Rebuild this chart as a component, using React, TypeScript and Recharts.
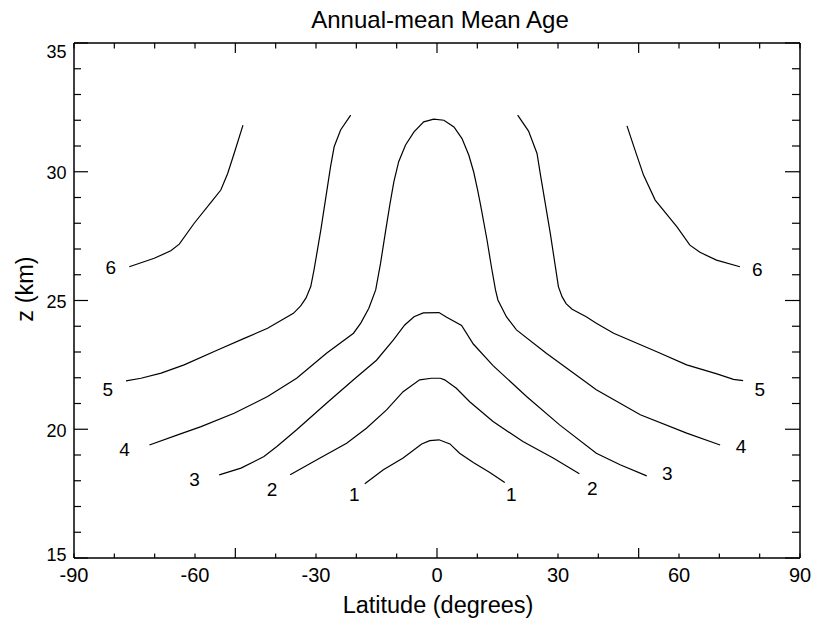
import React from 'react';
import { ComposedChart, Line, XAxis, YAxis, Scatter } from 'recharts';

const chartTitle = 'Annual-mean Mean Age';
const xTitle = 'Latitude (degrees)';
const yTitle = 'z (km)';

const latTicks = [-90, -80, -70, -60, -50, -40, -30, -20, -10, 0, 10, 20, 30, 40, 50, 60, 70, 80, 90];
const zTicks = [15, 16, 17, 18, 19, 20, 21, 22, 23, 24, 25, 26, 27, 28, 29, 30, 31, 32, 33, 34, 35];

type P = { lat: number; z: number };
const pts = (a: number[][]): P[] => a.map(([lat, z]) => ({ lat, z }));

const contour1 = pts([
  [-17.9, 17.88], [-13.3, 18.43], [-8.4, 18.88], [-3.8, 19.43], [-1.8, 19.56], [0.5, 19.59],
  [3.2, 19.43], [5.6, 19.07], [9.0, 18.71], [13.1, 18.32], [16.8, 17.93],
]);
const contour2 = pts([
  [-36.4, 18.23], [-29.0, 18.88], [-22.4, 19.46], [-17.5, 20.04], [-12.5, 20.75], [-8.4, 21.46],
  [-4.3, 21.92], [-1.4, 21.98], [0.8, 21.98], [1.9, 21.92], [4.8, 21.59], [8.1, 21.07],
  [13.9, 20.3], [21.3, 19.52], [28.8, 18.88], [35.3, 18.27],
]);
const contour3 = pts([
  [-54.0, 18.23], [-48.6, 18.49], [-42.9, 18.94], [-39.7, 19.33], [-34.8, 19.98], [-27.4, 21.01],
  [-20.7, 21.92], [-15.0, 22.68], [-10.8, 23.47], [-8.0, 24.05], [-5.7, 24.37], [-3.4, 24.52],
  [0.5, 24.53], [2.4, 24.35], [6.1, 24.03], [9.0, 23.31], [13.9, 22.47], [22.2, 21.27],
  [30.4, 20.17], [39.5, 19.07], [45.4, 18.62], [52.0, 18.19],
]);
const contour4 = pts([
  [-71.3, 19.39], [-64.3, 19.78], [-58.5, 20.1], [-50.3, 20.62], [-42.0, 21.27], [-34.8, 21.98],
  [-27.4, 22.95], [-20.7, 23.73], [-18.9, 24.12], [-16.9, 24.7], [-15.2, 25.41], [-14.0, 26.44],
  [-12.7, 27.74], [-11.7, 28.71], [-10.7, 29.61], [-9.5, 30.39], [-7.8, 31.04], [-5.7, 31.55],
  [-3.3, 31.94], [-0.8, 32.04], [1.7, 32.0], [4.2, 31.74], [6.2, 31.29], [7.9, 30.64],
  [9.1, 29.99], [10.0, 29.34], [10.8, 28.71], [12.4, 27.35], [13.5, 26.3], [14.5, 25.41],
  [15.1, 25.02], [17.2, 24.37], [19.7, 23.86], [27.1, 22.95], [34.5, 22.11], [39.5, 21.53],
  [50.4, 20.56], [61.9, 19.85], [70.2, 19.39],
]);
const contour5South = pts([
  [-77.1, 21.88], [-73.4, 21.98], [-68.4, 22.18], [-62.7, 22.5], [-54.4, 23.08], [-47.8, 23.53],
  [-42.0, 23.92], [-38.7, 24.22], [-35.6, 24.5], [-33.8, 24.79], [-32.5, 25.09], [-31.3, 25.54],
  [-30.5, 26.18], [-28.8, 27.74], [-26.4, 30.19], [-25.5, 30.97], [-23.9, 31.62], [-21.4, 32.2],
]);
const contour5North = pts([
  [20.0, 32.2], [22.7, 31.58], [24.8, 30.71], [25.6, 29.93], [28.1, 27.6], [30.1, 25.54],
  [31.0, 25.15], [32.0, 24.88], [33.5, 24.66], [37.0, 24.37], [39.5, 24.12], [43.8, 23.73],
  [54.5, 23.01], [61.9, 22.5], [69.4, 22.15], [73.5, 21.94], [75.9, 21.89],
]);
const contour6South = pts([
  [-76.3, 26.31], [-70.1, 26.64], [-66.0, 26.93], [-63.9, 27.19], [-60.2, 28.0], [-55.6, 28.9],
  [-53.6, 29.29], [-51.9, 29.93], [-50.3, 30.71], [-48.1, 31.81],
]);
const contour6North = pts([
  [47.1, 31.78], [49.1, 30.84], [51.2, 29.87], [54.1, 28.9], [59.5, 27.86], [62.7, 27.15],
  [65.2, 26.87], [69.3, 26.57], [75.1, 26.31],
]);

const contourLabels = [
  { lat: -80.9, z: 26.29, text: '6' }, { lat: 79.4, z: 26.19, text: '6' },
  { lat: -81.6, z: 21.56, text: '5' }, { lat: 80.0, z: 21.53, text: '5' },
  { lat: -77.5, z: 19.2, text: '4' }, { lat: 75.4, z: 19.33, text: '4' },
  { lat: -60.1, z: 18.05, text: '3' }, { lat: 57.1, z: 18.28, text: '3' },
  { lat: -40.9, z: 17.66, text: '2' }, { lat: 38.5, z: 17.71, text: '2' },
  { lat: -20.5, z: 17.47, text: '1' }, { lat: 18.4, z: 17.46, text: '1' },
];

const contours = [contour1, contour2, contour3, contour4, contour5South, contour5North, contour6South, contour6North];

const FONT = '"Liberation Sans", Arial, Helvetica, sans-serif';

const BottomTick = (props: any) => {
  const { x, y, payload } = props;
  const v = payload.value;
  const major = v % 50 === 0;
  return (
    <g>
      <line x1={x} x2={x} y1={y} y2={y - (major ? 10 : 4.5)} stroke="#000" strokeWidth={1.2} />
      {v % 30 === 0 && (
        <text x={x} y={y + 24} textAnchor="middle" fontSize={20} fontFamily={FONT} fill="#000">{v}</text>
      )}
    </g>
  );
};
const TopTick = (props: any) => {
  const { x, y, payload } = props;
  const major = payload.value % 50 === 0;
  return <line x1={x} x2={x} y1={y} y2={y + (major ? 10 : 5.5)} stroke="#000" strokeWidth={1.2} />;
};
const LeftTick = (props: any) => {
  const { x, y, payload } = props;
  const v = payload.value;
  const major = v % 5 === 0;
  const dy = v === 35 ? 14.5 : v === 15 ? 3 : 7.5;
  return (
    <g>
      <line x1={x} x2={x + (major ? 14 : 7)} y1={y} y2={y} stroke="#000" strokeWidth={1.2} />
      {major && (
        <text x={x - 7.5} y={y + dy} textAnchor="end" fontSize={18} fontFamily={FONT} fill="#000">{v}</text>
      )}
    </g>
  );
};
const RightTick = (props: any) => {
  const { x, y, payload } = props;
  const major = payload.value % 5 === 0;
  return <line x1={x} x2={x - (major ? 15 : 8)} y1={y} y2={y} stroke="#000" strokeWidth={1.2} />;
};

const LabelShape = (props: any) => {
  const { cx, cy, payload } = props;
  return (
    <text x={cx} y={cy} dy={6.5} textAnchor="middle" fontSize={19} fontFamily={FONT} fill="#000">
      {payload.text}
    </text>
  );
};

export default function App() {
  return (
    <div style={{ position: 'absolute', left: 0, top: 0, width: 813, height: 621, background: '#fff' }}>
      <ComposedChart width={813} height={621} margin={{ top: 42, right: 12, bottom: 33, left: 14 }}>
        <XAxis
          xAxisId="bottom"
          dataKey="lat"
          type="number"
          domain={[-90, 90]}
          ticks={latTicks}
          interval={0}
          allowDataOverflow
          height={30}
          tickSize={0}
          tickMargin={0}
          tickLine={false}
          axisLine={{ stroke: '#000', strokeWidth: 1.5 }}
          tick={<BottomTick />}
        />
        <XAxis
          xAxisId="top"
          orientation="top"
          dataKey="lat"
          type="number"
          domain={[-90, 90]}
          ticks={latTicks}
          interval={0}
          allowDataOverflow
          height={1}
          tickSize={0}
          tickMargin={0}
          tickLine={false}
          axisLine={{ stroke: '#000', strokeWidth: 1.5 }}
          tick={<TopTick />}
        />
        <YAxis
          yAxisId="left"
          dataKey="z"
          type="number"
          domain={[15, 35]}
          ticks={zTicks}
          interval={0}
          allowDataOverflow
          width={60}
          tickSize={0}
          tickMargin={0}
          tickLine={false}
          axisLine={{ stroke: '#000', strokeWidth: 1.5 }}
          tick={<LeftTick />}
        />
        <YAxis
          yAxisId="right"
          orientation="right"
          dataKey="z"
          type="number"
          domain={[15, 35]}
          ticks={zTicks}
          interval={0}
          allowDataOverflow
          width={1}
          tickSize={0}
          tickMargin={0}
          tickLine={false}
          axisLine={{ stroke: '#000', strokeWidth: 1.5 }}
          tick={<RightTick />}
        />
        {contours.map((c, i) => (
          <Line
            key={i}
            data={c}
            dataKey="z"
            xAxisId="bottom"
            yAxisId="left"
            type="linear"
            stroke="#000"
            strokeWidth={1.2}
            dot={false}
            activeDot={false}
            isAnimationActive={false}
          />
        ))}
        <Scatter
          data={contourLabels}
          dataKey="z"
          xAxisId="bottom"
          yAxisId="left"
          shape={<LabelShape />}
          isAnimationActive={false}
        />
      </ComposedChart>
      <svg
        width={813}
        height={621}
        style={{ position: 'absolute', left: 0, top: 0, pointerEvents: 'none' }}
      >
        <text x={440} y={28} textAnchor="middle" fontSize={24} fontFamily={FONT} fill="#000">{chartTitle}</text>
        <text x={438} y={613} textAnchor="middle" fontSize={23.5} fontFamily={FONT} fill="#000">{xTitle}</text>
        <text
          x={33}
          y={289}
          textAnchor="middle"
          fontSize={23.5}
          fontFamily={FONT}
          fill="#000"
          transform="rotate(-90 33 289)"
        >
          {yTitle}
        </text>
      </svg>
    </div>
  );
}
